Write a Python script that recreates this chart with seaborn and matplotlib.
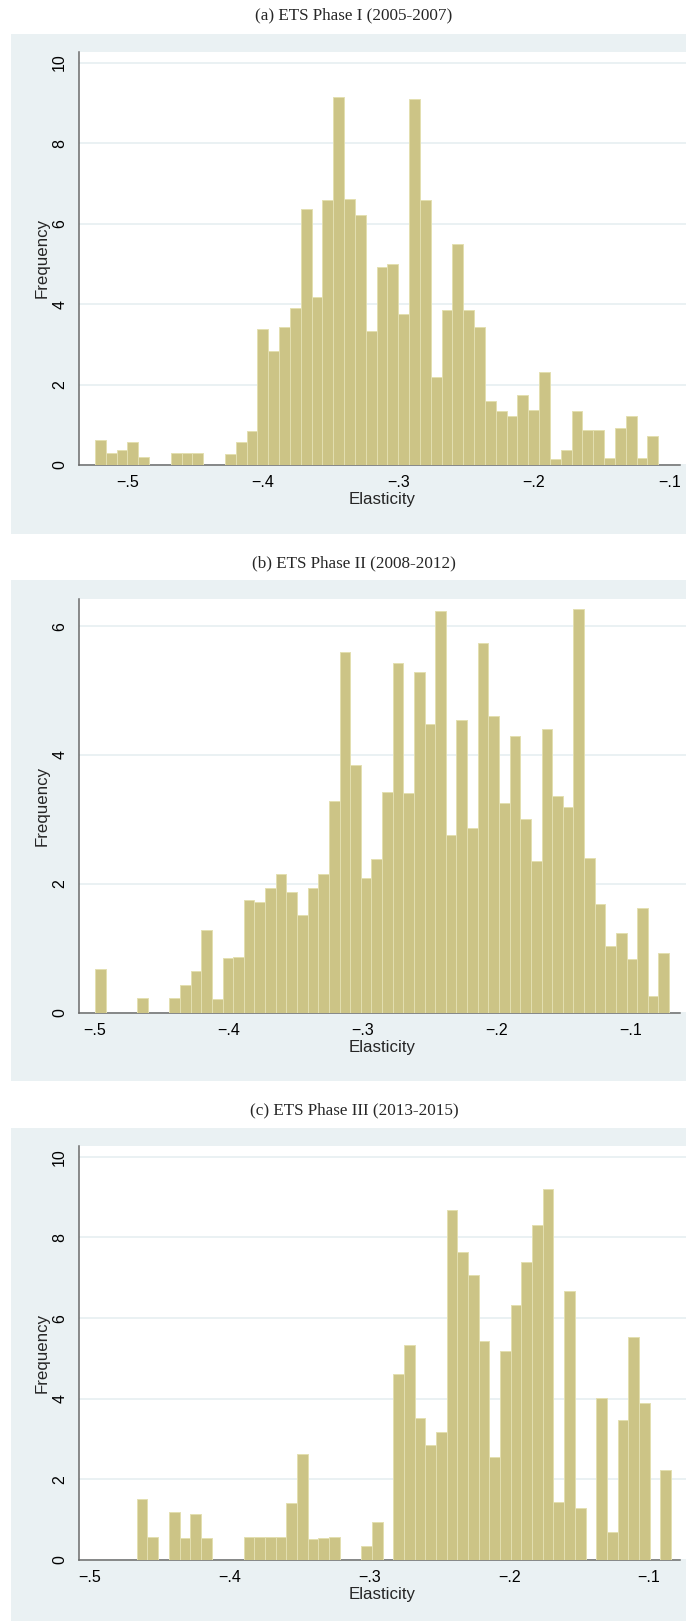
import matplotlib
matplotlib.use("Agg")
import matplotlib.pyplot as plt
import numpy as np
import pandas as pd
import seaborn as sns
from matplotlib.patches import Rectangle

# ---- data (bar heights) ----
titles = ["(a) ETS Phase I (2005-2007)",
          "(b) ETS Phase II (2008-2012)",
          "(c) ETS Phase III (2013-2015)"]

# Phase I: 52 bins of width 0.008 starting at -0.5242
a_start, a_end = -0.5242, -0.1082
a_freq = [0.61, 0.30, 0.38, 0.58, 0.20, 0, 0, 0.30, 0.30, 0.30,
          0, 0, 0.28, 0.56, 0.84, 3.39, 2.84, 3.44, 3.91, 6.35,
          4.17, 6.59, 9.14, 6.61, 6.22, 3.33, 4.93, 4.99, 3.74, 9.10,
          6.59, 2.19, 3.85, 5.50, 3.85, 3.42, 1.60, 1.33, 1.21, 1.74,
          1.36, 2.30, 0.16, 0.37, 1.34, 0.87, 0.87, 0.18, 0.91, 1.22,
          0.18, 0.73]

# Phase II: 54 bins from -0.5 to -0.0716
b_start, b_end = -0.5, -0.0716
b_freq = [0.68, 0, 0, 0, 0.23, 0, 0, 0.23, 0.43, 0.65,
          1.28, 0.21, 0.85, 0.87, 1.75, 1.72, 1.94, 2.16, 1.88, 1.51,
          1.94, 2.16, 3.28, 5.59, 3.85, 2.09, 2.38, 3.43, 5.42, 3.41,
          5.29, 4.48, 6.23, 2.75, 4.54, 2.86, 5.74, 4.60, 3.26, 4.29,
          3.00, 2.35, 4.40, 3.36, 3.19, 6.26, 2.40, 1.68, 1.03, 1.24,
          0.83, 1.62, 0.26, 0.92]

# Phase III: 50 bins from -0.4661 to -0.0843
c_start, c_end = -0.4661, -0.0843
c_freq = [1.52, 0.58, 0, 1.18, 0.54, 1.13, 0.54, 0, 0, 0,
          0.57, 0.57, 0.57, 0.57, 1.42, 2.64, 0.51, 0.54, 0.57, 0,
          0, 0.35, 0.95, 0, 4.61, 5.34, 3.52, 2.84, 3.18, 8.69,
          7.65, 7.06, 5.42, 2.56, 5.18, 6.32, 7.40, 8.32, 9.19, 1.45,
          6.66, 1.28, 0, 4.02, 0.70, 3.47, 5.52, 3.90, 0, 2.24]

xticks = [-0.5, -0.4, -0.3, -0.2, -0.1]
xtick_labels = ["\u2212.5", "\u2212.4", "\u2212.3", "\u2212.2", "\u2212.1"]

# ---- layout (pixels of a 686 x 1621 canvas) ----
W, H = 686, 1621
BG = "#EAF1F3"
BAR = "#CCC486"
EDGE = "#E3DFB0"
AXC = "#6B6B6B"

panels = [
    dict(title=titles[0], ty=15.5, bg=(11, 34, 686, 534), box=(79, 51.7, 686, 465),
         start=a_start, end=a_end, freq=a_freq, xlim=(-0.5360, -0.0877),
         ylim=(0, 10.27), yticks=[0, 2, 4, 6, 8, 10]),
    dict(title=titles[1], ty=563, bg=(11, 580, 686, 1081), box=(79, 599, 686, 1012.7),
         start=b_start, end=b_end, freq=b_freq, xlim=(-0.5119, -0.0590),
         ylim=(0, 6.42), yticks=[0, 2, 4, 6]),
    dict(title=titles[2], ty=1110, bg=(11, 1128, 686, 1621), box=(79, 1145.5, 686, 1560),
         start=c_start, end=c_end, freq=c_freq, xlim=(-0.5074, -0.0736),
         ylim=(0, 10.28), yticks=[0, 2, 4, 6, 8, 10]),
]

sns.set_style("white")
plt.rcParams["font.family"] = ["Liberation Sans", "DejaVu Sans"]

fig = plt.figure(figsize=(W / 100, H / 100), dpi=100)

for p in panels:
    x0, y0, x1, y1 = p["bg"]
    fig.patches.append(Rectangle((x0 / W, 1 - y1 / H), (x1 - x0) / W, (y1 - y0) / H,
                                 transform=fig.transFigure, facecolor=BG,
                                 edgecolor="none", zorder=-5))
    fig.text(354 / W, 1 - p["ty"] / H, p["title"], ha="center", va="center",
             family=["Liberation Serif", "DejaVu Serif"], fontsize=12.3)

    bx0, by0, bx1, by1 = p["box"]
    ax = fig.add_axes([bx0 / W, 1 - by1 / H, (bx1 - bx0) / W, (by1 - by0) / H])
    ax.set_facecolor("white")

    n = len(p["freq"])
    edges = list(np.linspace(p["start"], p["end"], n + 1))
    df = pd.DataFrame({"elasticity": [(edges[i] + edges[i + 1]) / 2 for i in range(n)],
                       "freq": p["freq"]})
    sns.histplot(data=df, x="elasticity", weights="freq", bins=edges, ax=ax,
                 color=BAR, edgecolor=EDGE, linewidth=0.7, alpha=1, zorder=3)

    ax.set_xlim(p["xlim"])
    ax.set_ylim(p["ylim"])
    ax.set_yticks(p["yticks"])
    ax.set_yticklabels([str(t) for t in p["yticks"]], rotation=90, va="center")
    ax.set_xticks(xticks)
    ax.set_xticklabels(xtick_labels)
    ax.grid(axis="y", color=BG, linewidth=1.4, zorder=1)
    ax.grid(axis="x", visible=False)
    ax.set_axisbelow(True)

    for s in ["top", "right"]:
        ax.spines[s].set_visible(False)
    for s in ["left", "bottom"]:
        ax.spines[s].set_color(AXC)
        ax.spines[s].set_linewidth(1.1)
    xa, xb = p["xlim"]
    ax.spines["bottom"].set_bounds(xa, xa + (680 - bx0) / (bx1 - bx0) * (xb - xa))
    ax.tick_params(axis="both", direction="out", length=4.5, width=1.0,
                   color=AXC, labelsize=11.5, labelcolor="black")
    ax.tick_params(axis="y", pad=4)
    ax.tick_params(axis="x", pad=3)
    ax.set_xlabel("Elasticity", fontsize=12.2, labelpad=1)
    ax.set_ylabel("Frequency", fontsize=12.2, labelpad=2)

fig.savefig("out.png", dpi=100, facecolor="white")
